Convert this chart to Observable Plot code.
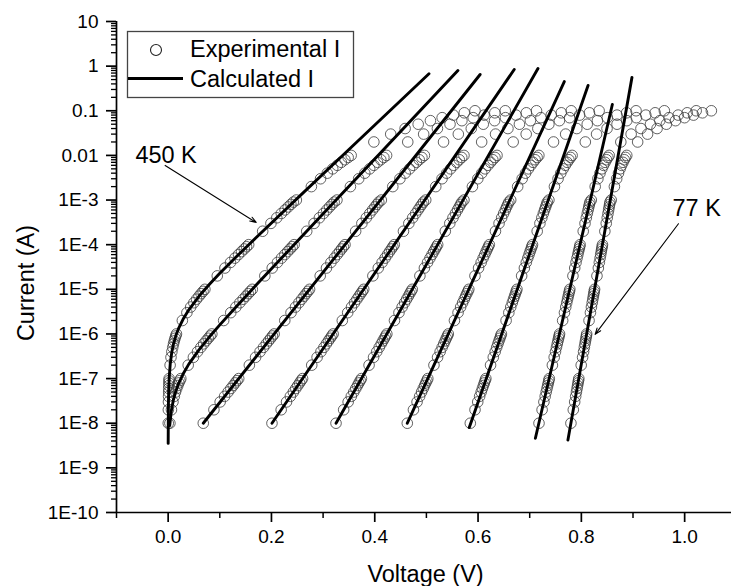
<!DOCTYPE html>
<html>
<head>
<meta charset="utf-8">
<script src="https://cdn.jsdelivr.net/npm/d3@7"></script>
<script src="https://cdn.jsdelivr.net/npm/@observablehq/plot@0.6"></script>
<style>
  html, body { margin: 0; padding: 0; background: #fff; overflow: hidden; }
  #chart svg { display: block; }
</style>
</head>
<body>
<div id="chart"></div>
<script>
// ---------- axis ticks ----------
const xMajorTicks = [0, 0.2, 0.4, 0.6, 0.8, 1.0];
const xMajorLabels = ["0.0", "0.2", "0.4", "0.6", "0.8", "1.0"];
const xMinorTicks = [-0.1, 0.1, 0.3, 0.5, 0.7, 0.9];
const yMajorTicks = [10, 1, 0.1, 0.01, 1e-3, 1e-4, 1e-5, 1e-6, 1e-7, 1e-8, 1e-9, 1e-10];
const yMajorLabels = ["10", "1", "0.1", "0.01", "1E-3", "1E-4", "1E-5", "1E-6", "1E-7", "1E-8", "1E-9", "1E-10"];

// ---------- experimental current steps (A), shared by all curves ----------
const currentSteps = [
  1e-8, 2e-8, 3e-8, 4e-8, 5e-8, 6e-8, 7e-8, 8e-8, 9e-8,
  1e-7, 2e-7, 3e-7, 4e-7, 5e-7, 6e-7, 7e-7, 8e-7, 9e-7,
  1e-6, 2e-6, 3e-6, 4e-6, 5e-6, 6e-6, 7e-6, 8e-6, 9e-6,
  1e-5, 2e-5, 3e-5, 4e-5, 5e-5, 6e-5, 7e-5, 8e-5, 9e-5,
  1e-4, 2e-4, 3e-4, 4e-4, 5e-4, 6e-4, 7e-4, 8e-4, 9e-4,
  1e-3, 2e-3, 3e-3, 4e-3, 5e-3, 6e-3, 7e-3, 8e-3, 9e-3,
  0.01, 0.02, 0.03, 0.04, 0.05, 0.06, 0.07, 0.08, 0.09, 0.1
];

// ---------- experimental voltages (V), one array per temperature, 450 K ... 77 K ----------
const expV1 = [.0002,.0004,.0006,.0008,.0010,.0012,.0014,.0016,.0017,
  .0019,.0038,.0055,.0072,.0089,.0104,.0119,.0133,.0147,
  .0161,.0275,.0363,.0436,.0497,.0550,.0597,.0638,.0676,
  .0711,.0951,.1100,.1207,.1292,.1362,.1421,.1473,.1518,
  .1559,.1830,.1990,.2103,.2191,.2263,.2324,.2377,.2424,
  .2482,.2773,.2951,.3081,.3186,.3274,.3353,.3422,.3485,
  .3543,.3983,.4309,.4588,.4841,.5078,.5305,.5523,.5734,.5941];
const expV2 = [.0034,.0064,.0093,.0119,.0143,.0166,.0187,.0207,.0227,
  .0245,.0388,.0489,.0568,.0633,.0687,.0734,.0776,.0813,
  .0846,.1075,.1212,.1311,.1388,.1451,.1505,.1551,.1592,
  .1629,.1872,.2015,.2116,.2194,.2259,.2313,.2360,.2402,
  .2439,.2683,.2826,.2928,.3007,.3071,.3125,.3172,.3214,
  .3268,.3529,.3689,.3807,.3902,.3983,.4054,.4117,.4176,
  .4229,.4639,.4947,.5213,.5457,.5687,.5906,.6118,.6325,.6527];
const expV3 = [.068,.0886,.1007,.1093,.1160,.1214,.1260,.1299,.1334,
  .1366,.1572,.1693,.1779,.1846,.1900,.1946,.1985,.2020,
  .2052,.2258,.2379,.2465,.2532,.2586,.2632,.2671,.2706,
  .2738,.2944,.3065,.3151,.3218,.3272,.3318,.3357,.3392,
  .3424,.3630,.3751,.3837,.3904,.3958,.4004,.4043,.4078,
  .4127,.4349,.4487,.4589,.4673,.4743,.4806,.4861,.4913,
  .4961,.5332,.5618,.5869,.6101,.6320,.6531,.6735,.6935,.7132];
const expV4 = [.201,.2188,.2292,.2366,.2424,.2471,.2510,.2545,.2575,
  .2602,.2780,.2884,.2958,.3016,.3063,.3102,.3137,.3167,
  .3194,.3372,.3476,.3550,.3608,.3655,.3694,.3729,.3759,
  .3786,.3964,.4068,.4142,.4200,.4247,.4286,.4321,.4351,
  .4378,.4556,.4660,.4734,.4792,.4839,.4878,.4913,.4943,
  .4987,.5181,.5302,.5392,.5467,.5530,.5586,.5637,.5684,
  .5727,.6070,.6339,.6578,.6801,.7013,.7217,.7417,.7612,.7804];
const expV5 = [.325,.3398,.3485,.3546,.3594,.3633,.3666,.3694,.3719,
  .3742,.3890,.3977,.4038,.4086,.4125,.4158,.4186,.4211,
  .4234,.4382,.4469,.4530,.4578,.4617,.4650,.4678,.4703,
  .4726,.4874,.4961,.5022,.5070,.5109,.5142,.5170,.5195,
  .5218,.5366,.5453,.5514,.5562,.5601,.5634,.5662,.5687,
  .5727,.5891,.5995,.6072,.6137,.6192,.6242,.6286,.6328,
  .6367,.6680,.6932,.7158,.7371,.7575,.7773,.7966,.8156,.8344];
const expV6 = [.463,.4749,.4819,.4869,.4907,.4939,.4965,.4988,.5009,
  .5027,.5146,.5216,.5266,.5304,.5336,.5362,.5385,.5406,
  .5424,.5543,.5613,.5663,.5701,.5733,.5759,.5782,.5803,
  .5821,.5940,.6010,.6060,.6098,.6130,.6156,.6179,.6200,
  .6218,.6337,.6407,.6457,.6495,.6527,.6553,.6576,.6597,
  .6632,.6767,.6854,.6920,.6975,.7023,.7066,.7105,.7143,
  .7177,.7461,.7696,.7911,.8114,.8311,.8502,.8690,.8876,.9059];
const expV7 = [.585,.5941,.5994,.6031,.6060,.6084,.6104,.6122,.6137,
  .6151,.6242,.6295,.6332,.6361,.6385,.6405,.6423,.6438,
  .6452,.6543,.6596,.6633,.6662,.6686,.6706,.6724,.6739,
  .6753,.6844,.6897,.6934,.6963,.6987,.7007,.7025,.7040,
  .7054,.7145,.7198,.7235,.7264,.7288,.7308,.7326,.7341,
  .7372,.7479,.7549,.7602,.7648,.7688,.7725,.7759,.7791,
  .7821,.8077,.8295,.8497,.8691,.8880,.9065,.9248,.9428,.9607];
const expV8 = [.718,.7240,.7275,.7300,.7319,.7335,.7348,.7360,.7370,
  .7379,.7439,.7474,.7499,.7518,.7534,.7547,.7559,.7569,
  .7578,.7638,.7673,.7698,.7717,.7733,.7746,.7758,.7768,
  .7777,.7837,.7872,.7897,.7916,.7932,.7945,.7957,.7967,
  .7976,.8036,.8071,.8096,.8115,.8131,.8144,.8156,.8166,
  .8192,.8268,.8320,.8361,.8397,.8429,.8459,.8487,.8514,
  .8539,.8764,.8964,.9154,.9338,.9519,.9697,.9874,1.0049,1.0223];
const expV9 = [.7798,.7844,.7871,.7890,.7905,.7917,.7927,.7936,.7944,
  .7951,.7997,.8024,.8043,.8058,.8070,.8080,.8089,.8097,
  .8103,.8149,.8176,.8195,.8210,.8222,.8232,.8241,.8249,
  .8256,.8302,.8329,.8348,.8363,.8375,.8385,.8394,.8402,
  .8409,.8455,.8482,.8501,.8516,.8528,.8538,.8547,.8555,
  .8578,.8640,.8684,.8719,.8751,.8779,.8806,.8831,.8856,
  .8879,.9090,.9282,.9466,.9646,.9823,.9998,1.0172,1.0345,1.0517];

// ---------- calculated I-V curves ----------
const calcV1 = [0.00007,0.0005,0.001,0.002,0.004,0.007,0.01,0.015,0.02,0.03,0.04,0.06,0.08,0.1,0.13,0.17,0.25,0.35,0.505];
const calcI1 = [3.53e-9,2.54e-8,5.11e-8,1.03e-7,2.12e-7,3.86e-7,5.74e-7,9.19e-7,1.31e-6,2.26e-6,3.48e-6,7.08e-6,1.30e-5,2.29e-5,5.10e-5,1.43e-4,1.09e-3,1.36e-2,0.677];
const calcV2 = [0.003,0.006,0.01,0.015,0.02,0.03,0.04,0.06,0.08,0.1,0.13,0.17,0.22,0.3,0.4,0.561];
const calcI2 = [8.87e-9,1.85e-8,3.27e-8,5.30e-8,7.62e-8,1.34e-7,2.11e-7,4.47e-7,8.64e-7,1.60e-6,3.88e-6,1.23e-5,5.08e-5,4.91e-4,8.35e-3,0.798];
const calcV3 = [0.068, 0.604];  const calcI3 = [1e-8, 0.65];
const calcV4 = [0.201, 0.670];  const calcI4 = [1e-8, 0.84];
const calcV5 = [0.325, 0.716];  const calcI5 = [1e-8, 0.885];
const calcV6 = [0.463, 0.767];  const calcI6 = [1e-8, 0.45];
const calcV7 = [0.583, 0.813];  const calcI7 = [8e-9, 0.37];
const calcV8 = [0.711, 0.860];  const calcI8 = [4.6e-9, 0.138];
const calcV9 = [0.774, 0.898];  const calcI9 = [4.2e-9, 0.56];

// ---------- annotations ----------
const annLabels = ["450 K", "77 K"];
const annV = [-0.004, 1.0232];
const annI = [0.01, 6.33e-4];
const arrowV1 = [-0.0058, 0.988];
const arrowI1 = [5.96e-3, 2.94e-4];
const arrowV2 = [0.1704, 0.8267];
const arrowI2 = [3.15e-4, 9.77e-7];

// ---------- build tables ----------
const expCurves = [expV1, expV2, expV3, expV4, expV5, expV6, expV7, expV8, expV9];
const expData = expCurves.flatMap((vs, c) => vs.map((v, k) => ({v, i: currentSteps[k], c})));
const calcVs = [calcV1, calcV2, calcV3, calcV4, calcV5, calcV6, calcV7, calcV8, calcV9];
const calcIs = [calcI1, calcI2, calcI3, calcI4, calcI5, calcI6, calcI7, calcI8, calcI9];
const calcData = calcVs.flatMap((vs, c) => vs.map((v, k) => ({v, i: calcIs[c][k], c})));
const annData = annLabels.map((t, k) => ({t, v: annV[k], i: annI[k]}));
const arrowData = arrowV1.map((v, k) => ({v1: v, i1: arrowI1[k], v2: arrowV2[k], i2: arrowI2[k]}));

const xLabelMap = new Map(xMajorTicks.map((d, k) => [d, xMajorLabels[k]]));
const yLabelMap = new Map(yMajorTicks.map((d, k) => [d, yMajorLabels[k]]));
const yMinorTicks = [];
for (let e = -10; e < 1; e++) for (let m = 2; m <= 9; m++) yMinorTicks.push(+(m + "e" + e));

const FONT = "'Liberation Sans', Arial, sans-serif";

const chart = Plot.plot({
  width: 731,
  height: 586,
  marginLeft: 116,
  marginRight: 0,
  marginTop: 21,
  marginBottom: 74,
  style: {fontFamily: FONT, fontSize: "19px", color: "black", background: "white", overflow: "visible"},
  x: {domain: [-0.1, 1.0907], axis: null},
  y: {type: "log", domain: [1e-10, 10], axis: null},
  marks: [
    Plot.axisY(yMinorTicks, {anchor: "left", tickSize: 5, tickFormat: () => "", strokeWidth: 1.3, label: null}),
    Plot.axisY(yMajorTicks, {anchor: "left", tickSize: 10, tickPadding: 8, tickFormat: d => yLabelMap.get(d), fontSize: 19, strokeWidth: 1.7, label: null}),
    Plot.axisX(xMinorTicks, {anchor: "bottom", tickSize: 6, tickFormat: () => "", strokeWidth: 1.5, label: null}),
    Plot.axisX(xMajorTicks, {anchor: "bottom", tickSize: 10, tickPadding: 7, tickFormat: d => xLabelMap.get(d), fontSize: 19, strokeWidth: 1.7, label: null}),
    Plot.ruleX([-0.1], {stroke: "black", strokeWidth: 1.7}),
    Plot.ruleY([1e-10], {stroke: "black", strokeWidth: 1.7}),
    Plot.dot(expData, {x: "v", y: "i", r: 5.3, fill: "none", stroke: "#3a3a3a", strokeWidth: 0.8}),
    Plot.line(calcData, {x: "v", y: "i", z: "c", stroke: "black", strokeWidth: 2.9, curve: "linear"}),
    Plot.arrow(arrowData, {x1: "v1", y1: "i1", x2: "v2", y2: "i2", stroke: "black", strokeWidth: 1.1, headLength: 9, headAngle: 40}),
    Plot.text(annData, {x: "v", y: "i", text: "t", fontSize: 23.5, textAnchor: "middle", lineAnchor: "middle", fill: "black"}),
    Plot.text(["Voltage (V)"], {frameAnchor: "bottom", dx: 1.5, dy: 62, fontSize: 23.5, textAnchor: "middle", lineAnchor: "middle", fill: "black"}),
    Plot.text(["Current (A)"], {frameAnchor: "left", rotate: -90, dx: -90, dy: 16, fontSize: 23.5, textAnchor: "middle", lineAnchor: "middle", fill: "black"})
  ]
});

// ---------- legend box ----------
const svg = d3.select(chart);
const lg = svg.append("g").attr("font-family", FONT).attr("font-size", "23.5px").attr("text-anchor", "start");
lg.append("rect").attr("x", 127.5).attr("y", 31.5).attr("width", 226).attr("height", 66)
  .attr("fill", "white").attr("stroke", "#444").attr("stroke-width", 1.3);
lg.append("circle").attr("cx", 156).attr("cy", 50).attr("r", 5.5)
  .attr("fill", "none").attr("stroke", "#222").attr("stroke-width", 1.1);
lg.append("text").attr("x", 190).attr("y", 57).attr("fill", "black").attr("text-anchor", "start").text("Experimental I");
lg.append("line").attr("x1", 128).attr("x2", 183).attr("y1", 78.5).attr("y2", 78.5)
  .attr("stroke", "black").attr("stroke-width", 3);
lg.append("text").attr("x", 190).attr("y", 87).attr("fill", "black").attr("text-anchor", "start").text("Calculated I");

document.getElementById("chart").appendChild(chart);
</script>
</body>
</html>
